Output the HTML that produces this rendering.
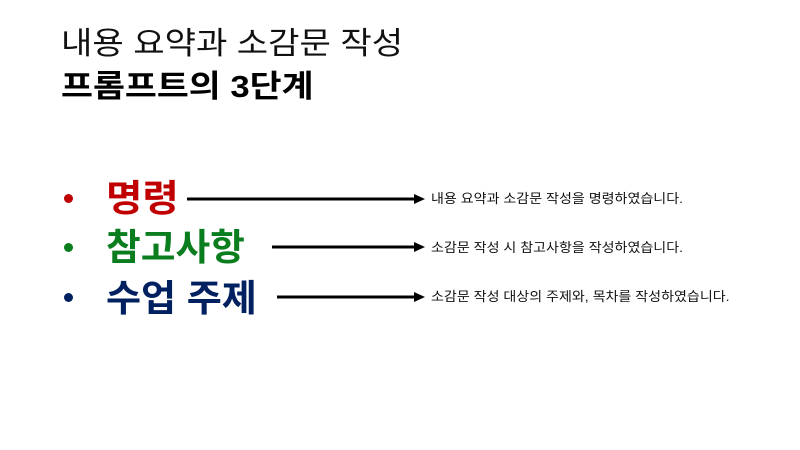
<!DOCTYPE html>
<html><head><meta charset="utf-8"><style>
body{margin:0;width:800px;height:450px;background:#fff;position:relative;overflow:hidden;font-family:"Liberation Sans","Noto Sans CJK KR",sans-serif;}
.t{position:absolute;white-space:nowrap;transform-origin:0 50%;}
.dot{position:absolute;width:9px;height:9px;border-radius:50%;}
.w{position:absolute;white-space:nowrap;font-weight:bold;font-size:37px;line-height:40px;transform-origin:0 50%;}
.s{position:absolute;white-space:nowrap;font-size:13px;line-height:14px;color:#111;transform:scaleX(1.08);transform-origin:0 50%;}
</style></head><body>
<div class="t" style="left:61px;top:26px;font-size:31px;line-height:36px;color:#111;transform:scaleX(1.1)">내용 요약과 소감문 작성</div>
<div class="t" style="left:61px;top:69px;font-size:31px;line-height:36px;font-weight:bold;color:#000;transform:scaleX(1.12)">프롬프트의 3단계</div>

<div class="dot" style="left:64px;top:194px;background:#c00000"></div>
<div class="dot" style="left:64px;top:243px;background:#0a7d1e"></div>
<div class="dot" style="left:64px;top:293px;background:#002060"></div>

<div class="w" style="left:106px;top:179px;color:#c00000;transform:scaleX(1.07)">명령</div>
<div class="w" style="left:106px;top:228px;color:#0a7d1e;transform:scaleX(1.02)">참고사항</div>
<div class="w" style="left:106px;top:279px;color:#002060;transform:scaleX(1.03)">수업 주제</div>

<svg style="position:absolute;left:0;top:0" width="800" height="450">
<g stroke="#000" stroke-width="3"><line x1="187" y1="199" x2="416" y2="199"/><line x1="272" y1="247" x2="416" y2="247"/><line x1="277" y1="297" x2="416" y2="297"/></g>
<g fill="#000"><polygon points="414,194 425,199 414,204"/><polygon points="414,242 425,247 414,252"/><polygon points="414,292 425,297 414,302"/></g>
</svg>

<div class="s" style="left:431px;top:192px">내용 요약과 소감문 작성을 명령하였습니다.</div>
<div class="s" style="left:431px;top:241px">소감문 작성 시 참고사항을 작성하였습니다.</div>
<div class="s" style="left:431px;top:290px">소감문 작성 대상의 주제와, 목차를 작성하였습니다.</div>
</body></html>
